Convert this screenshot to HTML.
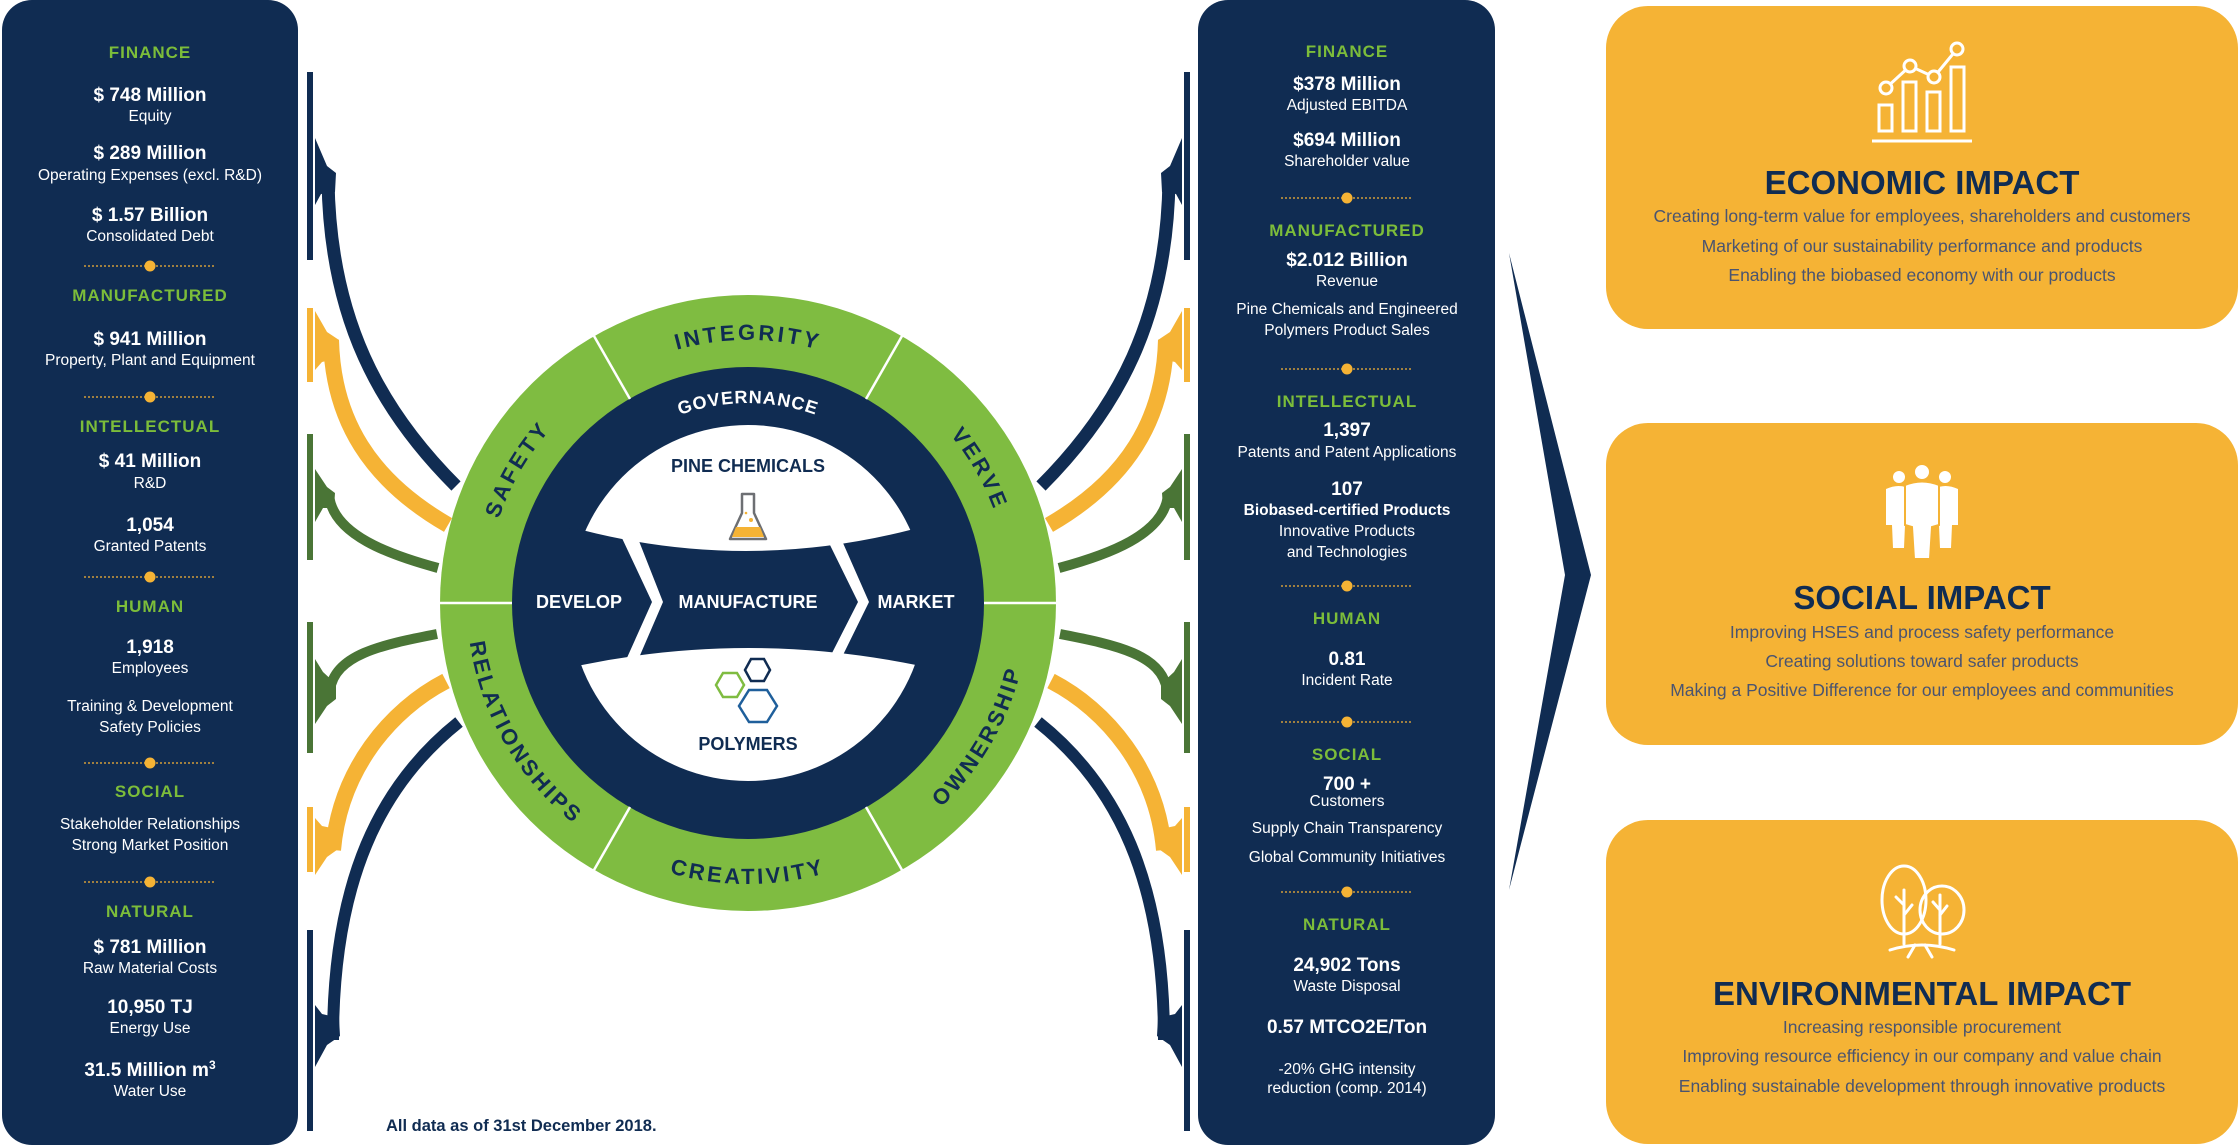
<!DOCTYPE html>
<html><head><meta charset="utf-8"><style>
html,body{margin:0;padding:0;background:#fff;}
svg{display:block;}
text{font-family:"Liberation Sans",Arial,sans-serif;}
.h{fill:#7cbd3a;font-weight:bold;font-size:17px;letter-spacing:1px;text-anchor:middle;}
.v{fill:#fff;font-weight:bold;font-size:19px;text-anchor:middle;}
.l{fill:#fff;font-size:15.5px;text-anchor:middle;}
.t{fill:#102c52;font-weight:bold;font-size:33px;text-anchor:middle;}
.d{fill:#4a5470;font-size:17.5px;text-anchor:middle;}
.r{fill:#102c52;font-weight:bold;font-size:22px;letter-spacing:3px;}
.w{fill:#fff;font-weight:bold;font-size:18px;text-anchor:middle;}
.n{fill:#102c52;font-weight:bold;font-size:18px;text-anchor:middle;}
</style></head><body>
<svg width="2238" height="1145" viewBox="0 0 2238 1145" xmlns="http://www.w3.org/2000/svg">
<defs>
<path id="topArc" d="M 485 603 A 263 263 0 0 1 1011 603"/>
<path id="botArc" d="M 467 603 A 281 281 0 0 0 1029 603"/>
<path id="govArc" d="M 548 603 A 200 200 0 0 1 948 603"/>
<g id="dots">
<line x1="0" y1="0" x2="132" y2="0" stroke="#f5b335" stroke-width="1.3" stroke-dasharray="2 2"/>
<circle cx="66" cy="0" r="5.5" fill="#f5b335"/>
</g>
<g id="arrows">
<!-- top group -->
<rect x="307" y="72" width="6" height="188" fill="#102c52"/>
<path d="M 328 180 C 330 320 380 410 456 486" stroke="#102c52" stroke-width="13" fill="none"/>
<polygon points="315,138 327,166 336,173 335,192 321,194 315,205" fill="#102c52"/>
<rect x="307" y="308" width="6" height="74" fill="#f5b335"/>
<path d="M 331 340 C 333 420 370 480 448 525" stroke="#f5b335" stroke-width="16" fill="none"/>
<polygon points="315,311 327,332 339,340 339,358 322,362 315,370" fill="#f5b335"/>
<rect x="307" y="434" width="6" height="126" fill="#4a7536"/>
<path d="M 329 495 C 333 535 390 555 438 568" stroke="#4a7536" stroke-width="10" fill="none"/>
<polygon points="315,469 327,487 335,493 334,508 323,508 315,522" fill="#4a7536"/>
<!-- bottom group -->
<rect x="307" y="622" width="6" height="131" fill="#4a7536"/>
<path d="M 330 690 C 335 655 380 645 437 634" stroke="#4a7536" stroke-width="10" fill="none"/>
<polygon points="315,724 327,706 336,699 336,684 323,672 315,659" fill="#4a7536"/>
<rect x="307" y="807" width="6" height="65" fill="#f5b335"/>
<path d="M 446 681 C 390 710 340 770 333 850" stroke="#f5b335" stroke-width="16" fill="none"/>
<polygon points="315,875 327,857 341,847 341,830 322,826 315,818" fill="#f5b335"/>
<rect x="307" y="930" width="6" height="201" fill="#102c52"/>
<path d="M 459 722 C 380 785 333 880 333 1040" stroke="#102c52" stroke-width="12" fill="none"/>
<polygon points="315,1067 327,1045 340,1036 339,1018 322,1014 315,1005" fill="#102c52"/>
</g>
</defs>

<!-- left panel -->
<rect x="2" y="0" width="296" height="1145" rx="30" fill="#102c52"/>
<text class="h" x="150" y="58">FINANCE</text>
<text class="v" x="150" y="101">$ 748 Million</text>
<text class="l" x="150" y="121">Equity</text>
<text class="v" x="150" y="159">$ 289 Million</text>
<text class="l" x="150" y="180">Operating Expenses (excl. R&amp;D)</text>
<text class="v" x="150" y="221">$ 1.57 Billion</text>
<text class="l" x="150" y="241">Consolidated Debt</text>
<use href="#dots" x="84" y="266"/>
<text class="h" x="150" y="301">MANUFACTURED</text>
<text class="v" x="150" y="345">$ 941 Million</text>
<text class="l" x="150" y="365">Property, Plant and Equipment</text>
<use href="#dots" x="84" y="397"/>
<text class="h" x="150" y="432">INTELLECTUAL</text>
<text class="v" x="150" y="467">$ 41 Million</text>
<text class="l" x="150" y="488">R&amp;D</text>
<text class="v" x="150" y="531">1,054</text>
<text class="l" x="150" y="551">Granted Patents</text>
<use href="#dots" x="84" y="577"/>
<text class="h" x="150" y="612">HUMAN</text>
<text class="v" x="150" y="653">1,918</text>
<text class="l" x="150" y="673">Employees</text>
<text class="l" x="150" y="711">Training &amp; Development</text>
<text class="l" x="150" y="732">Safety Policies</text>
<use href="#dots" x="84" y="763"/>
<text class="h" x="150" y="797">SOCIAL</text>
<text class="l" x="150" y="829">Stakeholder Relationships</text>
<text class="l" x="150" y="850">Strong Market Position</text>
<use href="#dots" x="84" y="882"/>
<text class="h" x="150" y="917">NATURAL</text>
<text class="v" x="150" y="953">$ 781 Million</text>
<text class="l" x="150" y="973">Raw Material Costs</text>
<text class="v" x="150" y="1013">10,950 TJ</text>
<text class="l" x="150" y="1033">Energy Use</text>
<text class="v" x="150" y="1076">31.5 Million m<tspan font-size="12" dy="-7">3</tspan></text>
<text class="l" x="150" y="1096">Water Use</text>

<text x="386" y="1131" fill="#102c52" font-weight="bold" font-size="16.5px">All data as of 31st December 2018.</text>

<!-- right panel -->
<rect x="1198" y="0" width="297" height="1145" rx="30" fill="#102c52"/>
<text class="h" x="1347" y="57">FINANCE</text>
<text class="v" x="1347" y="90">$378 Million</text>
<text class="l" x="1347" y="110">Adjusted EBITDA</text>
<text class="v" x="1347" y="146">$694 Million</text>
<text class="l" x="1347" y="166">Shareholder value</text>
<use href="#dots" x="1281" y="198"/>
<text class="h" x="1347" y="236">MANUFACTURED</text>
<text class="v" x="1347" y="266">$2.012 Billion</text>
<text class="l" x="1347" y="286">Revenue</text>
<text class="l" x="1347" y="314">Pine Chemicals and Engineered</text>
<text class="l" x="1347" y="335">Polymers Product Sales</text>
<use href="#dots" x="1281" y="369"/>
<text class="h" x="1347" y="407">INTELLECTUAL</text>
<text class="v" x="1347" y="436">1,397</text>
<text class="l" x="1347" y="457">Patents and Patent Applications</text>
<text class="v" x="1347" y="495">107</text>
<text class="l" x="1347" y="515" font-weight="bold">Biobased-certified Products</text>
<text class="l" x="1347" y="536">Innovative Products</text>
<text class="l" x="1347" y="557">and Technologies</text>
<use href="#dots" x="1281" y="586"/>
<text class="h" x="1347" y="624">HUMAN</text>
<text class="v" x="1347" y="665">0.81</text>
<text class="l" x="1347" y="685">Incident Rate</text>
<use href="#dots" x="1281" y="722"/>
<text class="h" x="1347" y="760">SOCIAL</text>
<text class="v" x="1347" y="790">700 +</text>
<text class="l" x="1347" y="806">Customers</text>
<text class="l" x="1347" y="833">Supply Chain Transparency</text>
<text class="l" x="1347" y="862">Global Community Initiatives</text>
<use href="#dots" x="1281" y="892"/>
<text class="h" x="1347" y="930">NATURAL</text>
<text class="v" x="1347" y="971">24,902 Tons</text>
<text class="l" x="1347" y="991">Waste Disposal</text>
<text class="v" x="1347" y="1033">0.57 MTCO2E/Ton</text>
<text class="l" x="1347" y="1074">-20% GHG intensity</text>
<text class="l" x="1347" y="1093">reduction (comp. 2014)</text>

<!-- arrows -->
<use href="#arrows"/>
<use href="#arrows" transform="translate(1497,0) scale(-1,1)"/>

<!-- big chevron -->
<polygon points="1509,253 1591,575 1509,890 1565,575" fill="#102c52"/>

<!-- central circle -->
<circle cx="748" cy="603" r="308" fill="#7fbc41"/>
<circle cx="748" cy="603" r="236" fill="#102c52"/>
<g stroke="#fff" stroke-width="2.5">
<line x1="866" y1="399" x2="902" y2="336"/>
<line x1="630" y1="399" x2="594" y2="336"/>
<line x1="512" y1="603" x2="440" y2="603"/>
<line x1="984" y1="603" x2="1056" y2="603"/>
<line x1="630" y1="807" x2="594" y2="870"/>
<line x1="866" y1="807" x2="902" y2="870"/>
</g>
<circle cx="748" cy="603" r="178" fill="#fff"/>
<path d="M 565 528 L 582 530 Q 746 572 910 530 L 932 527 L 932 668 L 916 665 Q 748 631 582 665 L 565 668 Z" fill="#102c52"/>
<polygon points="621,536 637,536 663,602 638,660 626,660 652,602" fill="#fff"/>
<polygon points="829,543 843,543 869,602 843,655 831,655 858,602" fill="#fff"/>

<text class="r"><textPath href="#topArc" startOffset="16.7%" text-anchor="middle">SAFETY</textPath></text>
<text class="r"><textPath href="#topArc" startOffset="50%" text-anchor="middle">INTEGRITY</textPath></text>
<text class="r"><textPath href="#topArc" startOffset="83.3%" text-anchor="middle">VERVE</textPath></text>
<text class="r"><textPath href="#botArc" startOffset="16.7%" text-anchor="middle">RELATIONSHIPS</textPath></text>
<text class="r"><textPath href="#botArc" startOffset="50%" text-anchor="middle">CREATIVITY</textPath></text>
<text class="r"><textPath href="#botArc" startOffset="83.3%" text-anchor="middle">OWNERSHIP</textPath></text>
<text fill="#fff" font-weight="bold" font-size="18px" letter-spacing="1px"><textPath href="#govArc" startOffset="50%" text-anchor="middle">GOVERNANCE</textPath></text>

<text class="n" x="748" y="472">PINE CHEMICALS</text>
<text class="n" x="748" y="750">POLYMERS</text>
<text class="w" x="579" y="608">DEVELOP</text>
<text class="w" x="748" y="608">MANUFACTURE</text>
<text class="w" x="916" y="608">MARKET</text>

<!-- flask -->
<path d="M 742 494 L 754 494 L 754 513 L 766 539 L 730 539 L 742 513 Z" fill="#fff" stroke="#6d6f73" stroke-width="2.5" stroke-linejoin="round"/>
<path d="M 736 527 L 760 527 L 764 537 L 732 537 Z" fill="#f5b335"/>
<circle cx="751" cy="520" r="2" fill="#f5b335"/><circle cx="746" cy="513" r="1.3" fill="#f5b335"/>
<!-- hexagons -->
<g fill="none" stroke-width="2.5">
<polygon points="744,685 737,697 723,697 716,685 723,673 737,673" stroke="#7fbc41"/>
<polygon points="770,670 764,681 751,681 745,670 751,659 764,659" stroke="#102c52"/>
<polygon points="777,706 767,722 749,722 739,706 749,690 767,690" stroke="#1f5f9b"/>
</g>

<!-- impact boxes -->
<rect x="1606" y="6" width="632" height="323" rx="42" fill="#f5b335"/>
<rect x="1606" y="423" width="632" height="322" rx="42" fill="#f5b335"/>
<rect x="1606" y="820" width="632" height="324" rx="42" fill="#f5b335"/>

<!-- economic icon -->
<g fill="none" stroke="#fff" stroke-width="3">
<rect x="1879" y="105" width="13" height="26"/>
<rect x="1903" y="82" width="13" height="49"/>
<rect x="1927" y="92" width="13" height="39"/>
<rect x="1951" y="67" width="13" height="64"/>
<line x1="1872" y1="141" x2="1972" y2="141"/>
<polyline points="1886,88 1910,66 1934,77 1957,49"/>
<circle cx="1886" cy="88" r="6" fill="#f5b335"/>
<circle cx="1910" cy="66" r="6" fill="#f5b335"/>
<circle cx="1934" cy="77" r="6" fill="#f5b335"/>
<circle cx="1957" cy="49" r="6" fill="#f5b335"/>
</g>
<text class="t" x="1922" y="194">ECONOMIC IMPACT</text>
<text class="d" x="1922" y="222">Creating long-term value for employees, shareholders and customers</text>
<text class="d" x="1922" y="252">Marketing of our sustainability performance and products</text>
<text class="d" x="1922" y="281">Enabling the biobased economy with our products</text>

<!-- social icon -->
<g fill="#fff">
<circle cx="1899" cy="477" r="6"/><path d="M 1886 489 Q 1899 483 1910 489 L 1910 525 L 1905 525 L 1904 548 L 1893 548 L 1892 525 L 1886 525 Z"/>
<circle cx="1945" cy="477" r="6"/><path d="M 1934 489 Q 1945 483 1958 489 L 1958 525 L 1952 525 L 1951 548 L 1940 548 L 1939 525 L 1934 525 Z"/>
<circle cx="1922" cy="472" r="8" stroke="#f5b335" stroke-width="2"/>
<path d="M 1905 485 Q 1922 478 1939 485 L 1939 525 L 1932 527 L 1930 559 L 1914 559 L 1912 527 L 1905 525 Z" stroke="#f5b335" stroke-width="2"/>
</g>
<text class="t" x="1922" y="609">SOCIAL IMPACT</text>
<text class="d" x="1922" y="638">Improving HSES and process safety performance</text>
<text class="d" x="1922" y="667">Creating solutions toward safer products</text>
<text class="d" x="1922" y="696">Making a Positive Difference for our employees and communities</text>

<!-- tree icon -->
<g fill="none" stroke="#fff" stroke-width="3" stroke-linecap="round">
<ellipse cx="1904" cy="900" rx="22" ry="34"/>
<ellipse cx="1942" cy="910" rx="22" ry="24"/>
<line x1="1904" y1="890" x2="1904" y2="944"/>
<line x1="1904" y1="905" x2="1896" y2="897"/><line x1="1904" y1="915" x2="1912" y2="905"/>
<line x1="1940" y1="895" x2="1940" y2="944"/>
<line x1="1940" y1="910" x2="1933" y2="902"/><line x1="1940" y1="915" x2="1947" y2="906"/>
<path d="M 1890 950 Q 1922 940 1954 950"/>
<line x1="1915" y1="945" x2="1908" y2="957"/><line x1="1925" y1="945" x2="1932" y2="957"/>
</g>
<text class="t" x="1922" y="1005">ENVIRONMENTAL IMPACT</text>
<text class="d" x="1922" y="1033">Increasing responsible procurement</text>
<text class="d" x="1922" y="1062">Improving resource efficiency in our company and value chain</text>
<text class="d" x="1922" y="1092">Enabling sustainable development through innovative products</text>
</svg>
</body></html>
